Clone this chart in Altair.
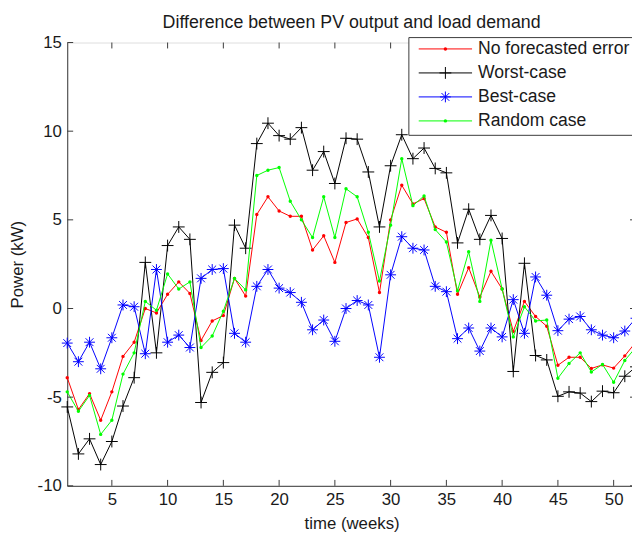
import altair as alt
import pandas as pd

weeks = list(range(1, 53))

no_forecast_error = [-3.9, -5.7, -4.8, -6.3, -4.7, -2.7, -1.9, 0.0, -0.25, 0.8,
                     1.5, 0.85, -1.8, -0.7, -0.4, 1.7, 0.7, 5.3, 6.3, 5.5,
                     5.2, 5.2, 3.3, 4.1, 2.6, 4.85, 5.05, 4.0, 0.9, 5.0,
                     6.95, 5.9, 6.2, 4.6, 4.3, 0.8, 2.3, 0.65, 2.1, 1.1,
                     -1.3, 0.4, -0.45, -1.0, -3.2, -2.75, -2.75, -3.38, -3.18, -3.36,
                     -2.67, -1.88]
worst_case = [-5.55, -8.2, -7.35, -8.8, -7.5, -5.5, -3.9, 2.6, -2.5, 3.55,
              4.6, 3.9, -5.3, -3.6, -3.05, 4.7, 3.4, 9.3, 10.45, 9.75,
              9.55, 10.2, 7.8, 8.85, 7.05, 9.6, 9.55, 7.7, 4.6, 8.05,
              9.8, 8.45, 9.05, 7.9, 7.65, 3.7, 5.6, 3.9, 5.25, 3.95,
              -3.55, 2.55, -2.65, -2.9, -4.95, -4.7, -4.77, -5.25, -4.66, -4.75,
              -3.82, -3.29]
best_case = [-1.95, -3.0, -1.9, -3.4, -1.65, 0.2, 0.1, -2.55, 2.2, -1.9,
             -1.5, -2.2, 1.7, 2.2, 2.25, -1.4, -1.9, 1.25, 2.2, 1.15,
             0.9, 0.35, -1.2, -0.65, -1.85, 0.0, 0.45, 0.2, -2.75, 1.9,
             4.05, 3.4, 3.3, 1.25, 0.95, -1.7, -1.1, -2.4, -1.1, -1.6,
             0.5, -1.4, 1.78, 0.75, -1.25, -0.6, -0.45, -1.2, -1.5, -1.65,
             -1.27, -0.55]
random_case = [-4.7, -5.8, -4.9, -7.1, -6.3, -3.7, -2.5, 0.4, -0.1, 1.95,
               1.1, 1.5, -2.2, -1.55, -0.15, 1.7, 1.05, 7.5, 7.8, 7.95,
               6.05, 5.0, 4.0, 6.3, 4.0, 6.75, 6.3, 4.3, 1.55, 4.7,
               8.45, 5.8, 6.35, 4.45, 3.75, 1.0, 3.2, 0.4, 3.85, 1.1,
               -1.6, 0.1, -0.7, -0.65, -3.93, -3.1, -2.5, -3.58, -3.15, -4.16,
               -2.93, -2.18]

series_names = ["No forecasted error", "Worst-case", "Best-case", "Random case"]
series_values = [no_forecast_error, worst_case, best_case, random_case]
series_colors = ["#ff0000", "#000000", "#0000ff", "#00ff00"]
marker_kinds = ["dot", "plus", "star", "dot"]

x_ticks = [5, 10, 15, 20, 25, 30, 35, 40, 45, 50]
y_ticks = [-10, -5, 0, 5, 10, 15]

title_text = "Difference between PV output and load demand"
x_title = "time (weeks)"
y_title = "Power (kW)"

PLUS = "M-1,0L1,0M0,-1L0,1"
STAR = "M-1,0L1,0M0,-1L0,1M-0.72,-0.72L0.72,0.72M-0.72,0.72L0.72,-0.72"

W, H = 576, 449
FONT = "Liberation Sans"
AXIS_COLOR = "#3a3a3a"
TEXT_COLOR = "#1a1a1a"
FS = 17

xs = alt.Scale(domain=[1, 52], nice=False, zero=False)
ys = alt.Scale(domain=[-10, 15], nice=False, zero=False)

common_axis = dict(ticks=False, tickSize=0, labelPadding=6, grid=False,
                   domainColor=AXIS_COLOR, labelColor=TEXT_COLOR, labelFontSize=FS,
                   labelFont=FONT, titleFont=FONT, titleFontSize=FS,
                   titleFontWeight="normal", titleColor=TEXT_COLOR,
                   titleBaseline="middle", labelFlush=False,
                   labelExpr="'' + datum.value")
x_axis = alt.Axis(values=x_ticks, title=x_title, titleY=38.5, **common_axis)
y_axis = alt.Axis(values=y_ticks, title=y_title, titleX=-50, titleY=H / 2, **common_axis)

layers = []
for name, vals, color, kind in zip(series_names, series_values, series_colors, marker_kinds):
    df = pd.DataFrame({"week": weeks, "power": vals, "series": name})
    base = alt.Chart(df).encode(
        x=alt.X("week:Q", scale=xs, axis=x_axis),
        y=alt.Y("power:Q", scale=ys, axis=y_axis),
    )
    layers.append(base.mark_line(color=color, strokeWidth=1))
    if kind == "dot":
        layers.append(base.mark_circle(color=color, size=12, opacity=1))
    else:
        shape = PLUS if kind == "plus" else STAR
        size = 144 if kind == "plus" else 121
        layers.append(base.mark_point(shape=shape, size=size, color=color, strokeWidth=1,
                                      filled=False, opacity=1))

# inward ticks (MATLAB-style box axes)
xt = pd.DataFrame({"week": x_ticks})
yt = pd.DataFrame({"power": y_ticks})
TL = 6
layers.append(alt.Chart(xt).mark_rule(color=AXIS_COLOR, strokeWidth=1).encode(
    x=alt.X("week:Q", scale=xs, axis=x_axis), y=alt.value(H), y2=alt.value(H - TL)))
layers.append(alt.Chart(xt).mark_rule(color=AXIS_COLOR, strokeWidth=1).encode(
    x=alt.X("week:Q", scale=xs, axis=x_axis), y=alt.value(0), y2=alt.value(TL)))
layers.append(alt.Chart(yt).mark_rule(color=AXIS_COLOR, strokeWidth=1).encode(
    y=alt.Y("power:Q", scale=ys, axis=y_axis), x=alt.value(0), x2=alt.value(TL)))
layers.append(alt.Chart(yt).mark_rule(color=AXIS_COLOR, strokeWidth=1).encode(
    y=alt.Y("power:Q", scale=ys, axis=y_axis), x=alt.value(W - TL), x2=alt.value(W)))

# title
layers.append(alt.Chart(pd.DataFrame({"t": [title_text]})).mark_text(
    align="center", baseline="middle", font=FONT, fontSize=18, color=TEXT_COLOR).encode(
    text="t:N", x=alt.value(W / 2), y=alt.value(-19.6)))

# legend box
box_df = pd.DataFrame({"k": [0]})
layers.append(alt.Chart(box_df).mark_rect(fill="white", stroke=AXIS_COLOR, strokeWidth=1).encode(
    x=alt.value(346), x2=alt.value(W + 5), y=alt.value(-5), y2=alt.value(94)))

for i, (name, color, kind) in enumerate(zip(series_names, series_colors, marker_kinds)):
    yrow = 6.5 + i * 24.3
    ldf = pd.DataFrame({"label": [name]})
    layers.append(alt.Chart(ldf).mark_rule(color=color, strokeWidth=1).encode(
        x=alt.value(356), x2=alt.value(410), y=alt.value(yrow)))
    if kind == "dot":
        layers.append(alt.Chart(ldf).mark_circle(color=color, size=12, opacity=1).encode(
            x=alt.value(383), y=alt.value(yrow)))
    else:
        shape = PLUS if kind == "plus" else STAR
        size = 144 if kind == "plus" else 121
        layers.append(alt.Chart(ldf).mark_point(shape=shape, size=size, color=color,
                                                strokeWidth=1, filled=False, opacity=1).encode(
            x=alt.value(383), y=alt.value(yrow)))
    layers.append(alt.Chart(ldf).mark_text(align="left", baseline="middle", font=FONT,
                                           fontSize=17.8, color=TEXT_COLOR).encode(
        text="label:N", x=alt.value(416), y=alt.value(yrow)))

chart = alt.layer(*layers).properties(
    width=W, height=H,
    autosize=alt.AutoSizeParams(type="none"),
    padding={"left": 60, "top": 31.6, "right": -4, "bottom": 44},
).configure_view(stroke=AXIS_COLOR, strokeWidth=1).configure(background="white")

chart.save("out.html", embed_options={"renderer": "svg", "actions": False})
